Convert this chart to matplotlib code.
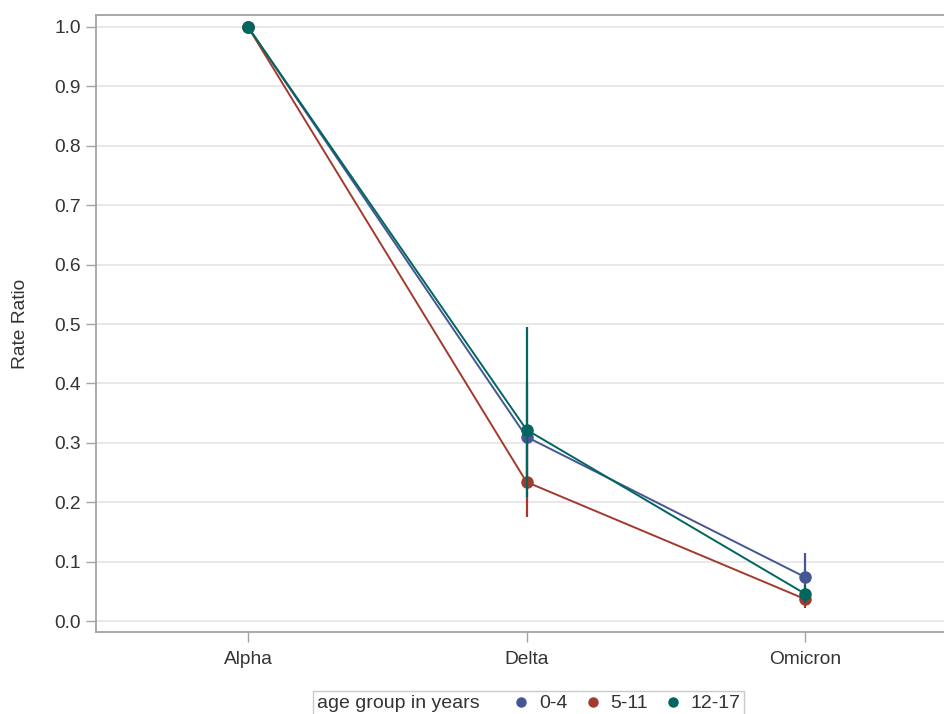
import matplotlib
matplotlib.use("Agg")
import matplotlib.pyplot as plt
import numpy as np
from matplotlib.lines import Line2D
from matplotlib.offsetbox import HPacker

# data
variants = ['Alpha', 'Delta', 'Omicron']
groups = ['0-4', '5-11', '12-17']

rr_0_4 = [1.0, 0.310, 0.074]
lo_0_4 = [np.nan, 0.240, 0.045]
hi_0_4 = [np.nan, 0.400, 0.114]

rr_5_11 = [1.0, 0.234, 0.037]
lo_5_11 = [np.nan, 0.175, 0.022]
hi_5_11 = [np.nan, 0.310, 0.050]

rr_12_17 = [1.0, 0.322, 0.046]
lo_12_17 = [np.nan, 0.209, 0.030]
hi_12_17 = [np.nan, 0.495, 0.060]

yticks = [0.0, 0.1, 0.2, 0.3, 0.4, 0.5, 0.6, 0.7, 0.8, 0.9, 1.0]

colors = ['#445694', '#A23A2E', '#01665E']
series = [(rr_0_4, lo_0_4, hi_0_4),
          (rr_5_11, lo_5_11, hi_5_11),
          (rr_12_17, lo_12_17, hi_12_17)]

plt.rcParams['font.family'] = ['Liberation Sans', 'DejaVu Sans']
txt = '#333333'
edge = '#A3A3A3'

fig = plt.figure(figsize=(9.44, 7.14), dpi=100)
# right edge of the plot runs a little past the picture, as in the reference
ax = fig.add_axes([96 / 944, 1 - 632 / 714, (957 - 96) / 944, (632 - 15) / 714])

x = np.arange(len(variants))
for (rr, lo, hi), c in zip(series, colors):
    lo = np.array(lo)
    hi = np.array(hi)
    ok = ~np.isnan(lo)
    ax.vlines(x[ok], lo[ok], hi[ok], color=c, lw=1.6, zorder=3)
    ax.plot(x, rr, color=c, lw=1.4, marker='o', ms=8, zorder=3)

ax.set_xlim(-0.546, 2.546)
ax.set_ylim(-0.0185, 1.0202)
ax.set_xticks(x)
ax.set_xticklabels(variants)
ax.set_yticks(yticks)
ax.set_yticklabels(['%.1f' % v for v in yticks])
ax.grid(axis='y', color='#E4E4E4', lw=1.2)
ax.set_axisbelow(True)

for s in ax.spines.values():
    s.set_color(edge)
    s.set_linewidth(1.3)
ax.tick_params(axis='both', colors=edge, labelcolor=txt, labelsize=13.8,
               length=7, width=1.0)
ax.tick_params(axis='x', pad=7)
ax.tick_params(axis='y', pad=4)

ax.set_ylabel('Rate Ratio', fontsize=13.8, color=txt, labelpad=18)

# legend: title sits on the left of the entries
handles = [Line2D([], [], ls='none', marker='o', ms=6.5, color=c) for c in colors]
leg = fig.legend(handles, groups, title='age group in years', ncol=3,
                 loc='upper left', bbox_to_anchor=(313 / 944, 1 - 691 / 714),
                 fontsize=14, title_fontsize=14, frameon=True, fancybox=False,
                 handlelength=0.6, handletextpad=0.6, columnspacing=1.0,
                 borderpad=0.2, borderaxespad=0)
leg.get_frame().set_edgecolor('#BDBDBD')
leg.get_frame().set_linewidth(1.0)
for t in leg.get_texts():
    t.set_color(txt)
leg.get_title().set_color(txt)
try:
    box = HPacker(pad=leg._legend_box.pad, sep=26, align='center',
                  children=[leg._legend_title_box, leg._legend_handle_box])
    box.set_figure(fig)
    leg._legend_box = box
    leg._set_loc(leg._loc)
except Exception:
    pass

fig.savefig('out.png', dpi=100, facecolor='white')
